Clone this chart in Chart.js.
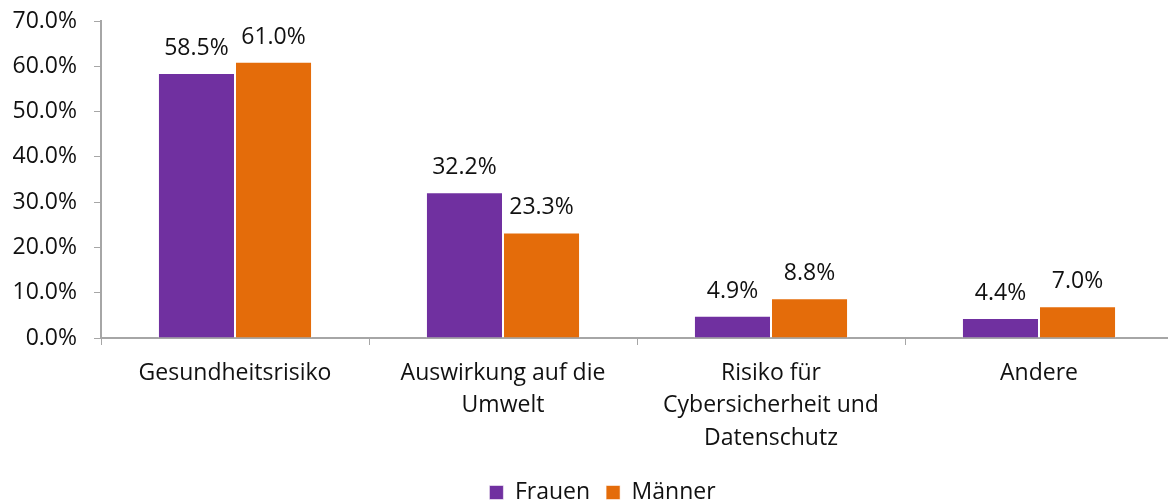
<!DOCTYPE html>
<html>
<head>
<meta charset="utf-8">
<script src="https://cdn.jsdelivr.net/npm/chart.js@4"></script>
<style>
  html, body { margin: 0; padding: 0; background: #fff; overflow: hidden; }
  #wrap { width: 1174px; height: 504px; }
</style>
</head>
<body>
<div id="wrap"><canvas id="chart"></canvas></div>
<script>
// categories and values (percent)
const categories = [
    'Gesundheitsrisiko',
    ['Auswirkung auf die', 'Umwelt'],
    ['Risiko für', 'Cybersicherheit und', 'Datenschutz'],
    'Andere'
];
const frauen = [58.5, 32.2, 4.9, 4.4];
const maenner = [61.0, 23.3, 8.8, 7.0];
const yTicks = [0, 10, 20, 30, 40, 50, 60, 70];

const FONT = '"Open Sans", sans-serif';

// draws the value above each bar
const valueLabels = {
    id: 'valueLabels',
    afterDatasetsDraw(chart) {
        const ctx = chart.ctx;
        ctx.save();
        ctx.font = '23px ' + FONT;
        ctx.fillStyle = '#111';
        ctx.textAlign = 'center';
        ctx.textBaseline = 'alphabetic';
        chart.data.datasets.forEach((ds, i) => {
            chart.getDatasetMeta(i).data.forEach((bar, j) => {
                ctx.fillText(ds.data[j].toFixed(1) + '%', bar.x, bar.y - 18);
            });
        });
        ctx.restore();
    }
};

// put the legend where the reference has it (a bit right of centre, near the bottom)
const legendShift = {
    id: 'legendShift',
    afterLayout(chart) {
        const lg = chart.legend;
        if (!lg) return;
        lg.left += 16;
        lg.right += 16;
        const h = lg.bottom - lg.top;
        lg.top = 465;
        lg.bottom = lg.top + h;
    }
};

new Chart(document.getElementById('chart'), {
    type: 'bar',
    data: {
        labels: categories,
        datasets: [
            { label: 'Frauen', data: frauen, backgroundColor: '#7030A0', borderColor: 'rgba(255,255,255,0.55)', borderWidth: 1 },
            { label: 'Männer', data: maenner, backgroundColor: '#E46C0A', borderColor: 'rgba(255,255,255,0.55)', borderWidth: 1 }
        ]
    },
    options: {
        responsive: true,
        maintainAspectRatio: false,
        animation: false,
        layout: { padding: { left: 0, right: 1, top: 21, bottom: 0 } },
        datasets: { bar: { barPercentage: 1, categoryPercentage: 0.575 } },
        plugins: {
            legend: {
                position: 'bottom',
                labels: {
                    font: { family: FONT, size: 23 },
                    color: '#111',
                    boxWidth: 14,
                    boxHeight: 14,
                    padding: 16
                }
            },
            tooltip: { enabled: false }
        },
        scales: {
            x: {
                grid: { drawOnChartArea: false, color: '#a6a6a6', tickLength: 7, offset: true },
                border: { color: '#a6a6a6', width: 2 },
                ticks: { font: { family: FONT, size: 23, lineHeight: 1.41 }, color: '#111', padding: 12, maxRotation: 0, autoSkip: false },
                afterFit(scale) { scale.height = 117; }
            },
            y: {
                min: 0,
                max: 70,
                afterBuildTicks(scale) { scale.ticks = yTicks.map(v => ({ value: v })); },
                grid: { drawOnChartArea: false, color: '#a6a6a6', tickLength: 7 },
                border: { color: '#a6a6a6', width: 2 },
                ticks: {
                    // small lineHeight keeps the top label from pushing the plot down
                    font: { family: FONT, size: 23, lineHeight: 0.3 },
                    color: '#111',
                    padding: 17,
                    callback: v => v.toFixed(1) + '%'
                },
                afterFit(scale) { scale.width = 101; }
            }
        }
    },
    plugins: [valueLabels, legendShift]
});
</script>
</body>
</html>
